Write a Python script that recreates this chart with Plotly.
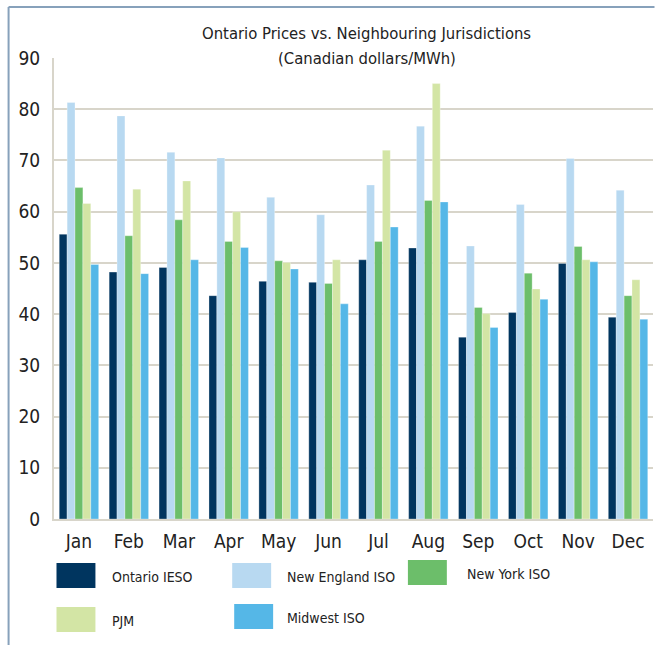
import plotly.graph_objects as go

months = ["Jan", "Feb", "Mar", "Apr", "May", "Jun", "Jul", "Aug", "Sep", "Oct", "Nov", "Dec"]

ontario_ieso = [55.6, 48.2, 49.1, 43.6, 46.4, 46.2, 50.6, 52.9, 35.5, 40.3, 49.9, 39.4]
new_england_iso = [81.3, 78.7, 71.6, 70.5, 62.8, 59.4, 65.2, 76.7, 53.3, 61.4, 70.4, 64.2]
new_york_iso = [64.7, 55.3, 58.4, 54.2, 50.4, 46.0, 54.2, 62.2, 41.3, 48.0, 53.2, 43.6]
pjm = [61.6, 64.4, 66.0, 60.0, 50.1, 50.6, 72.0, 85.0, 40.1, 44.9, 50.6, 46.7]
midwest_iso = [49.7, 47.9, 50.6, 53.0, 48.8, 42.0, 57.0, 61.9, 37.4, 42.9, 50.2, 39.0]

y_ticks = [0, 10, 20, 30, 40, 50, 60, 70, 80, 90]

series = [
    ("Ontario IESO", ontario_ieso, "#00355f"),
    ("New England ISO", new_england_iso, "#b8d9f1"),
    ("New York ISO", new_york_iso, "#6cbe6a"),
    ("PJM", pjm, "#d3e5a5"),
    ("Midwest ISO", midwest_iso, "#55b7e7"),
]

W, H = 655, 645
L, R, T, B = 53.5, 1.5, 58, 126
PW, PH = W - L - R, H - T - B
FONT = "Liberation Sans Narrow, DejaVu Sans Condensed, Arial Narrow, sans-serif"
GRID = "#d8d5ca"


def px(x):
    return (x - L) / PW


def py(y):
    return (H - B - y) / PH


fig = go.Figure()
for name, vals, color in series:
    fig.add_trace(
        go.Bar(
            x=months,
            y=vals,
            name=name,
            marker=dict(color=color, line=dict(color="rgba(255,255,255,0.5)", width=0.6)),
        )
    )

# hand-placed legend, like the original
legend_pos = [(56, 563, 110), (232, 563, 285), (408, 560, 465), (56, 607, 110), (234, 604, 285)]
for (name, _, color), (sx, sy, tx) in zip(series, legend_pos):
    fig.add_shape(
        type="rect", xref="paper", yref="paper",
        x0=px(sx), x1=px(sx + 39), y0=py(sy), y1=py(sy + 25),
        fillcolor=color, line=dict(width=0),
    )
    fig.add_annotation(
        xref="paper", yref="paper", x=px(tx), y=py(sy + 14),
        text=name, showarrow=False, xanchor="left", yanchor="middle",
        font=dict(family=FONT, size=14, color="#222"),
    )

# title
fig.add_annotation(
    xref="paper", yref="paper", x=px(367), y=py(22), text="Ontario Prices vs. Neighbouring Jurisdictions",
    showarrow=False, font=dict(family=FONT, size=16.5, color="#222"),
)
fig.add_annotation(
    xref="paper", yref="paper", x=px(367), y=py(47), text="(Canadian dollars/MWh)",
    showarrow=False, font=dict(family=FONT, size=16.5, color="#222"),
)

# outer frame (left and top)
fig.add_shape(type="line", xref="paper", yref="paper", x0=px(8), x1=px(8), y0=py(7), y1=py(645),
              line=dict(color="#87a1bb", width=2))
fig.add_shape(type="line", xref="paper", yref="paper", x0=px(8), x1=px(655), y0=py(7), y1=py(7),
              line=dict(color="#87a1bb", width=2))

fig.update_layout(
    width=W,
    height=H,
    barmode="group",
    bargap=0.21,
    bargroupgap=0,
    showlegend=False,
    margin=dict(l=L, r=R, t=T, b=B, pad=0),
    plot_bgcolor="white",
    paper_bgcolor="white",
    font=dict(family=FONT, color="#222"),
    xaxis=dict(
        showgrid=False, showline=True, linecolor=GRID, linewidth=2,
        tickfont=dict(size=19), ticklabelstandoff=4,
    ),
    yaxis=dict(
        range=[0, 90], tickvals=y_ticks, showgrid=True, gridcolor=GRID, gridwidth=2,
        showline=True, linecolor=GRID, linewidth=2, zeroline=False,
        tickfont=dict(size=19), ticklabelstandoff=8,
    ),
)

fig.write_html(
    "out.html",
    config={"displayModeBar": False},
    post_script="document.body.style.margin='0';document.body.style.overflow='hidden';",
)
